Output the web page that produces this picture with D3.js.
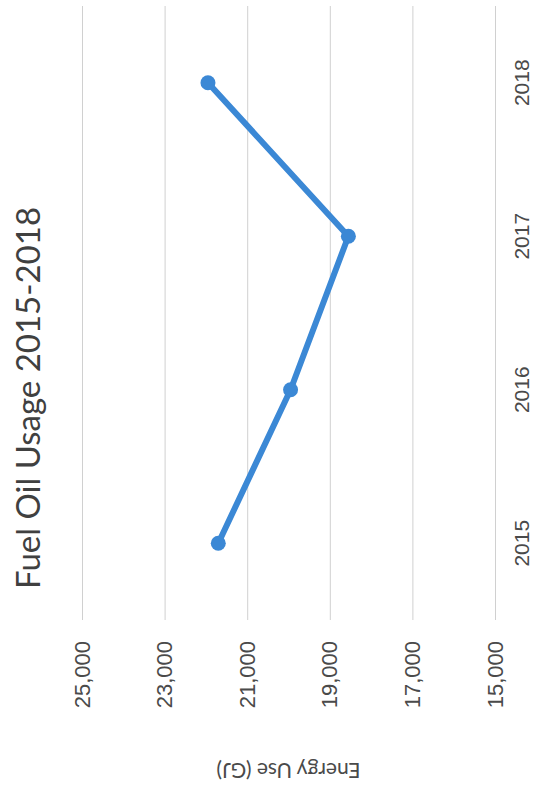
<!DOCTYPE html>
<html>
<head>
<meta charset="utf-8">
<script src="https://cdn.jsdelivr.net/npm/d3@7"></script>
<style>
  html, body { margin: 0; padding: 0; background: #ffffff; }
  svg { display: block; font-family: Lato, "Noto Sans", sans-serif; }
</style>
</head>
<body>
<svg id="chart" width="539" height="789"></svg>
<script>
// Fuel oil usage per year (GJ)
const years = ["2015", "2016", "2017", "2018"];
const usage = [21700, 19950, 18550, 21950];
const yTicks = [15000, 17000, 19000, 21000, 23000, 25000];
const chartTitle = "Fuel Oil Usage 2015-2018";
const yTitle = "Energy Use (GJ)";

const pageW = 539, pageH = 789;
// The chart is laid out landscape and then turned a quarter turn
const plot = { left: 169, right: 783, top: 82, bottom: 495 };

const svg = d3.select("#chart");
svg.append("rect").attr("width", pageW).attr("height", pageH).attr("fill", "#ffffff");

const g = svg.append("g")
  .attr("transform", `translate(0,${pageH}) rotate(-90)`);

const x = d3.scaleBand().domain(years).range([plot.left, plot.right]);
const y = d3.scaleLinear().domain([15000, 25000]).range([plot.bottom, plot.top]);

// Horizontal gridlines + value labels
const yAxis = g.append("g")
  .attr("transform", `translate(${plot.left},0)`)
  .call(d3.axisLeft(y).tickValues(yTicks).tickFormat(d3.format(",")).tickSize(-(plot.right - plot.left)).tickPadding(21));
yAxis.select(".domain").remove();
yAxis.selectAll(".tick line").attr("stroke", "#d0d0d0").attr("stroke-width", 1);
yAxis.selectAll(".tick text")
  .attr("fill", "#4a4a4a").style("font-size", "22px");

// Category labels
const xAxis = g.append("g")
  .attr("transform", `translate(0,${plot.bottom})`)
  .call(d3.axisBottom(x).tickSize(0).tickPadding(19));
xAxis.select(".domain").remove();
xAxis.selectAll(".tick text")
  .attr("fill", "#4a4a4a").style("font-size", "21px");

// Series line
const pts = years.map((yr, i) => [x(yr) + x.bandwidth() / 2, y(usage[i])]);
g.append("path")
  .datum(pts)
  .attr("d", d3.line())
  .attr("fill", "none")
  .attr("stroke", "#3b88d5")
  .attr("stroke-width", 6)
  .attr("stroke-linejoin", "round");

g.selectAll("circle.pt")
  .data(pts)
  .join("circle")
  .attr("class", "pt")
  .attr("cx", d => d[0])
  .attr("cy", d => d[1])
  .attr("r", 7.5)
  .attr("fill", "#3b88d5");

// Chart title
g.append("text")
  .attr("x", 391)
  .attr("y", 40)
  .attr("text-anchor", "middle")
  .attr("fill", "#404040")
  .style("font-size", "33px")
  .style("font-weight", 400)
  .text(chartTitle);

// Value axis title
g.append("text")
  .attr("transform", `translate(26,${(plot.top + plot.bottom) / 2}) rotate(-90)`)
  .attr("text-anchor", "middle")
  .attr("fill", "#4a4a4a")
  .style("font-size", "21px")
  .text(yTitle);
</script>
</body>
</html>
